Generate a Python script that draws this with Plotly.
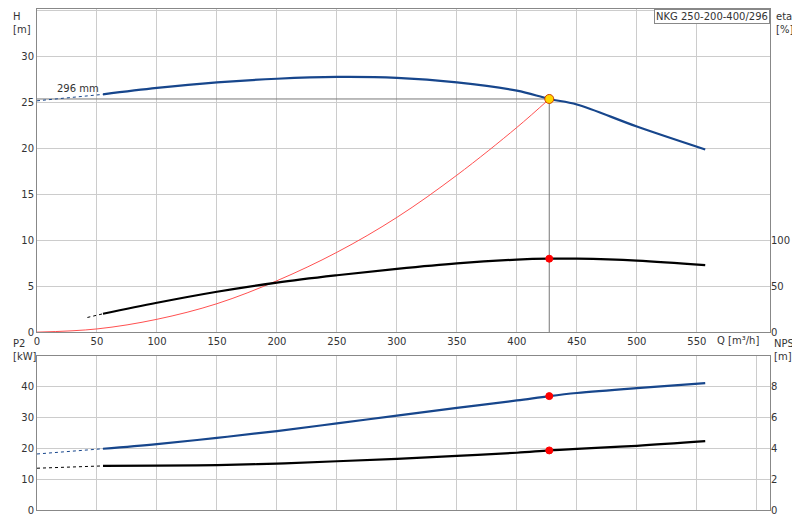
import plotly.graph_objects as go

# pump curve (H) in m
q_h = [55, 100, 150, 200, 250, 300, 350, 400, 427, 450, 500, 557]
h = [25.9, 26.6, 27.2, 27.6, 27.8, 27.7, 27.2, 26.3, 25.4, 24.8, 22.4, 19.9]
q_h_ext = [0, 55]
h_ext = [25.2, 25.9]

# system curve
q_sys = [0, 50, 100, 150, 200, 250, 300, 350, 400, 427]
h_sys = [0, 0.35, 1.4, 3.1, 5.6, 8.7, 12.5, 17.1, 22.3, 25.4]

# efficiency in %
q_eta = [55, 100, 150, 200, 250, 300, 350, 400, 427, 450, 500, 557]
eta = [20, 32, 44, 54, 62, 69, 75, 79, 80, 80, 78, 73]
q_eta_ext = [42, 55]
eta_ext = [16, 20]

# power P2 in kW
q_p = [55, 100, 150, 200, 250, 300, 350, 400, 427, 450, 500, 557]
p2 = [19.8, 21.3, 23.3, 25.5, 28.0, 30.5, 33.0, 35.4, 36.8, 37.8, 39.4, 41.0]
q_p_ext = [0, 55]
p2_ext = [18.1, 19.8]

# NPSH in m
q_n = [55, 100, 150, 200, 250, 300, 350, 400, 427, 450, 500, 557]
npsh = [2.85, 2.87, 2.9, 3.0, 3.15, 3.3, 3.5, 3.7, 3.85, 3.95, 4.15, 4.45]
q_n_ext = [0, 55]
npsh_ext = [2.7, 2.85]

duty_q = 427
duty_h = 25.4
duty_eta = 80
duty_p2 = 36.8
duty_npsh = 3.85

blue = "#17468c"
fig = go.Figure()

def line(x, y, xa, ya, color, width=2, dash=None, shape="spline"):
    fig.add_trace(go.Scatter(x=x, y=y, xaxis=xa, yaxis=ya, mode="lines",
                             line=dict(color=color, width=width, dash=dash, shape=shape),
                             showlegend=False, hoverinfo="skip"))

line([0, duty_q, duty_q], [duty_h, duty_h, 0], "x2", "y2", "#777", 1, shape="linear")
line(q_sys, h_sys, "x2", "y2", "#ff5050", 1)
line(q_h_ext, h_ext, "x2", "y2", blue, 1, "dot")
line(q_h, h, "x2", "y2", blue, 2.2)
line(q_eta_ext, eta_ext, "x2", "y3", "black", 1, "dot")
line(q_eta, eta, "x2", "y3", "black", 2.2)
line(q_p_ext, p2_ext, "x", "y", blue, 1, "dot")
line(q_p, p2, "x", "y", blue, 2.2)
line(q_n_ext, npsh_ext, "x", "y4", "black", 1, "dot")
line(q_n, npsh, "x", "y4", "black", 2.2)

def dot(x, y, xa, ya, color="red", size=7, lc="red"):
    fig.add_trace(go.Scatter(x=[x], y=[y], xaxis=xa, yaxis=ya, mode="markers",
                             marker=dict(color=color, size=size, line=dict(color=lc, width=1)),
                             showlegend=False, hoverinfo="skip"))

dot(duty_q, duty_h, "x2", "y2", "#ffd700", 9, "#d04000")
dot(duty_q, duty_eta, "x2", "y3")
dot(duty_q, duty_p2, "x", "y")
dot(duty_q, duty_npsh, "x", "y4")

grid = "#cccccc"
tf = dict(size=10, color="#333")
ax = dict(showgrid=True, gridcolor=grid, showline=True, linecolor="#888", mirror=True,
          zeroline=False, ticks="", tickfont=tf, automargin=False)
rax = dict(side="right", showgrid=False, zeroline=False, tickfont=tf, automargin=False)
fig.update_layout(
    width=800, height=520, plot_bgcolor="white", paper_bgcolor="white",
    margin=dict(l=29, r=38, t=1, b=18),
    font=dict(family="DejaVu Sans", size=10, color="#333"),
    xaxis=dict(ax, domain=[0, 1], range=[0, 611], dtick=50, anchor="y", showticklabels=False),
    xaxis2=dict(ax, domain=[0, 1], range=[0, 611], tickvals=list(range(0, 600, 50)), anchor="y2", matches="x"),
    yaxis=dict(ax, domain=[0, 0.307], range=[0, 49.7], dtick=10),
    yaxis2=dict(ax, domain=[0.355, 1], range=[0, 35.2], dtick=5),
    yaxis3=dict(rax, overlaying="y2", range=[0, 352], tickvals=[0, 50, 100]),
    yaxis4=dict(rax, overlaying="y", range=[0, 9.94], dtick=2),
)

def note(text, x, y, xanchor="left", yanchor="top", **kw):
    fig.add_annotation(text=text, x=x, y=y, xref="paper", yref="paper", showarrow=False,
                       xanchor=xanchor, yanchor=yanchor, align="left", font=dict(size=10), **kw)

note("H<br>[m]", -0.035, 1.0)
note("eta<br>[%]", 1.005, 1.0)
note("P2<br>[kW]", -0.035, 0.348)
note("NPSH<br>[m]", 1.003, 0.348)
note("NKG 250-200-400/296", 1.0, 1.0, xanchor="right", bordercolor="#888", borderwidth=1,
     bgcolor="white")
fig.add_annotation(text="Q [m³/h]", x=565, y=0, xref="x2", yref="y2", yshift=-8,
                   showarrow=False, xanchor="left", font=dict(size=10))
fig.add_annotation(text="296 mm", x=15, y=h_ext[0], xref="x2", yref="y2", yshift=12,
                   showarrow=False, xanchor="left", font=dict(size=10))

fig.write_html("out.html")
